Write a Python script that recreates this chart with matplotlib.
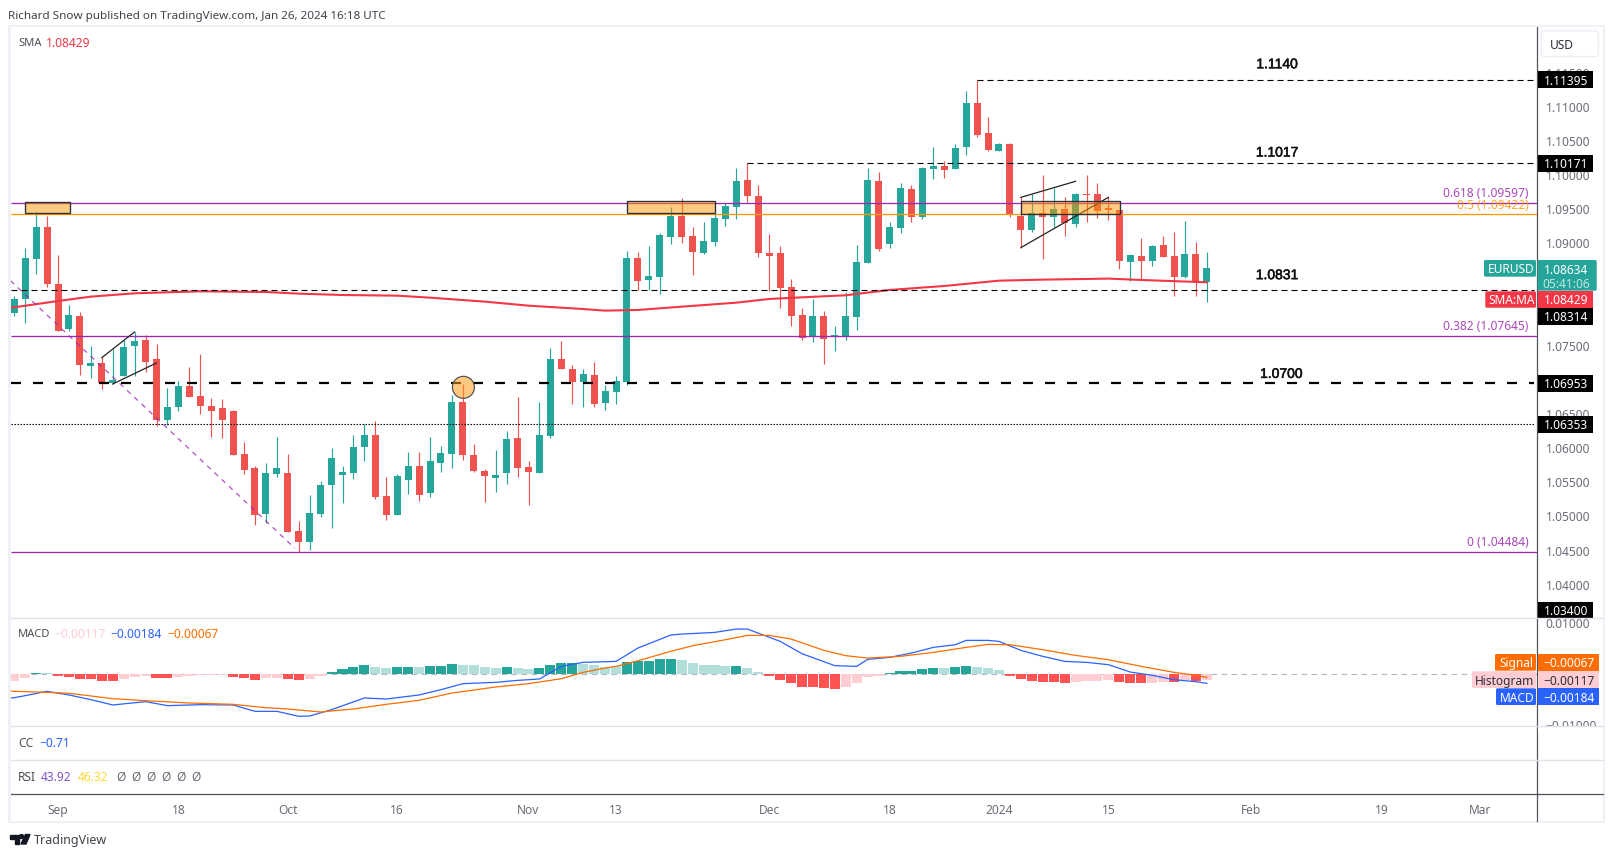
import numpy as np
import matplotlib
matplotlib.use("Agg")
import matplotlib.pyplot as plt
import matplotlib.patheffects as pe
from matplotlib.patches import Rectangle, Ellipse, FancyBboxPatch, Polygon, Circle

plt.rcParams['font.family'] = ['Noto Sans', 'DejaVu Sans']

W, H = 1613, 857

# daily EURUSD candles
opens = [1.07980, 1.08185, 1.08770, 1.09239, 1.08404, 1.07745, 1.07936, 1.07204, 1.07248, 1.06955,
         1.07057, 1.07497, 1.07584, 1.07306, 1.06413, 1.06604, 1.06911, 1.06765, 1.06618, 1.06589,
         1.06545, 1.05915, 1.05710, 1.05037, 1.05623, 1.05637, 1.04788, 1.04627, 1.05037, 1.05462,
         1.05608, 1.05637, 1.06018, 1.06194, 1.05301, 1.05022, 1.05535, 1.05740, 1.05344, 1.05784,
         1.05915, 1.06677, 1.05901, 1.05667, 1.05564, 1.05637, 1.06150, 1.05725, 1.05637, 1.06179,
         1.07306, 1.07160, 1.06970, 1.07072, 1.06662, 1.06823, 1.06970, 1.08785, 1.08463, 1.08507,
         1.09092, 1.09400, 1.09107, 1.08858, 1.09019, 1.09356, 1.09532, 1.09927, 1.09693, 1.08858,
         1.08858, 1.08360, 1.07951, 1.07643, 1.07936, 1.07640, 1.07643, 1.07922, 1.08712, 1.09913,
         1.08990, 1.09224, 1.09795, 1.09386, 1.10088, 1.10132, 1.10088, 1.10410, 1.11054, 1.10615,
         1.10352, 1.10454, 1.09400, 1.09195, 1.09444, 1.09386, 1.09503, 1.09283, 1.09722, 1.09722,
         1.09517, 1.09488, 1.08727, 1.08815, 1.08741, 1.08976, 1.08815, 1.08507, 1.08844, 1.08434]
highs = [1.08229, 1.08931, 1.09458, 1.09400, 1.08829, 1.08097, 1.07994, 1.07497, 1.07336, 1.07453,
         1.07584, 1.07702, 1.07658, 1.07526, 1.06882, 1.06984, 1.07189, 1.07379, 1.06735, 1.06721,
         1.06560, 1.06091, 1.05740, 1.05784, 1.06164, 1.05915, 1.04935, 1.05315, 1.05520, 1.06003,
         1.05740, 1.06194, 1.06355, 1.06399, 1.05579, 1.05623, 1.05945, 1.05945, 1.06164, 1.06033,
         1.06779, 1.06940, 1.06062, 1.05696, 1.05974, 1.06252, 1.06750, 1.05813, 1.06677, 1.07467,
         1.07570, 1.07218, 1.07160, 1.07262, 1.06926, 1.07057, 1.08887, 1.08873, 1.08961, 1.09151,
         1.09532, 1.09663, 1.09239, 1.09312, 1.09429, 1.09590, 1.10102, 1.10171, 1.09854, 1.09136,
         1.08961, 1.08477, 1.08053, 1.08185, 1.08009, 1.07790, 1.08288, 1.08976, 1.10103, 1.10044,
         1.09312, 1.09883, 1.09854, 1.10118, 1.10410, 1.10205, 1.10454, 1.11230, 1.11395, 1.10850,
         1.10469, 1.10469, 1.09673, 1.09722, 1.10000, 1.09810, 1.09678, 1.09737, 1.10000, 1.09883,
         1.09678, 1.09488, 1.08844, 1.09078, 1.08976, 1.09107, 1.09166, 1.09327, 1.09020, 1.08873]
lows = [1.07936, 1.07833, 1.08551, 1.08360, 1.07716, 1.07716, 1.07072, 1.07028, 1.06867, 1.06940,
        1.07057, 1.07057, 1.07116, 1.06325, 1.06340, 1.06545, 1.06750, 1.06501, 1.06164, 1.06150,
        1.05901, 1.05623, 1.04876, 1.04905, 1.05579, 1.04774, 1.04481, 1.04510, 1.04993, 1.04832,
        1.05198, 1.05549, 1.05813, 1.05257, 1.04949, 1.05022, 1.05330, 1.05227, 1.05286, 1.05652,
        1.05710, 1.05828, 1.05652, 1.05213, 1.05359, 1.05476, 1.05579, 1.05169, 1.05637, 1.06150,
        1.07160, 1.06647, 1.06604, 1.06604, 1.06560, 1.06647, 1.06926, 1.08316, 1.08316, 1.08258,
        1.08990, 1.09004, 1.08536, 1.08843, 1.08961, 1.09253, 1.09356, 1.09600, 1.08800, 1.08302,
        1.08053, 1.07789, 1.07585, 1.07556, 1.07233, 1.07424, 1.07585, 1.07731, 1.08712, 1.08888,
        1.08932, 1.09151, 1.09312, 1.09356, 1.09942, 1.09956, 1.10088, 1.10293, 1.10557, 1.10352,
        1.10352, 1.09386, 1.08937, 1.09166, 1.08771, 1.09239, 1.09107, 1.09239, 1.09312, 1.09371,
        1.09342, 1.08624, 1.08449, 1.08463, 1.08668, 1.08800, 1.08229, 1.08492, 1.08229, 1.08141]
closes = [1.08185, 1.08785, 1.09239, 1.08404, 1.07716, 1.07950, 1.07218, 1.07248, 1.06955, 1.06999,
          1.07482, 1.07570, 1.07262, 1.06413, 1.06604, 1.06911, 1.06750, 1.06618, 1.06545, 1.06413,
          1.05901, 1.05681, 1.05022, 1.05637, 1.05710, 1.04774, 1.04627, 1.05052, 1.05462, 1.05857,
          1.05652, 1.06018, 1.06194, 1.05286, 1.05022, 1.05593, 1.05740, 1.05315, 1.05813, 1.05930,
          1.06677, 1.05901, 1.05667, 1.05593, 1.05608, 1.06135, 1.05710, 1.05652, 1.06194, 1.07306,
          1.07160, 1.06970, 1.07087, 1.06647, 1.06838, 1.06984, 1.08785, 1.08448, 1.08521, 1.09122,
          1.09400, 1.09092, 1.08873, 1.09034, 1.09370, 1.09546, 1.09912, 1.09693, 1.08858, 1.08814,
          1.08346, 1.07936, 1.07614, 1.07936, 1.07599, 1.07655, 1.07936, 1.08727, 1.09927, 1.08917,
          1.09239, 1.09810, 1.09386, 1.10103, 1.10132, 1.10074, 1.10396, 1.11054, 1.10586, 1.10366,
          1.10454, 1.09429, 1.09195, 1.09444, 1.09386, 1.09503, 1.09298, 1.09722, 1.09708, 1.09473,
          1.09488, 1.08741, 1.08829, 1.08741, 1.08961, 1.08800, 1.08507, 1.08844, 1.08449, 1.08634]

# 200 SMA, sampled at these bars
sma_bars = [-1, 0, 4, 7, 11, 17, 23, 26, 30, 35, 38, 43, 47, 52, 54, 57, 61, 66, 69, 72, 76, 80, 85, 90, 94, 100, 103, 109]
sma_vals = [1.08040, 1.08063, 1.08155, 1.08219, 1.08268, 1.08297, 1.08287, 1.08263, 1.08243, 1.08233, 1.08204, 1.08146,
            1.08087, 1.08038, 1.08014, 1.08024, 1.08072, 1.08131, 1.08185, 1.08209, 1.08239, 1.08317, 1.08375, 1.08453,
            1.08468, 1.08483, 1.08463, 1.08429]

# MACD pane
hist = [-.00131, -.00072, .00026, .00020, -.00033, -.00052, -.00092, -.00105, -.00131, -.00131,
        -.00092, -.00052, -.00039, -.00072, -.00072, -.00052, -.00033, -.00026, -.00020, -.00013,
        -.00052, -.00072, -.00112, -.00079, -.00072, -.00092, -.00112, -.00092, -.00033, .00046,
        .00092, .00144, .00184, .00144, .00112, .00131, .00131, .00131, .00151, .00151,
        .00203, .00184, .00171, .00131, .00112, .00131, .00112, .00092, .00112, .00184,
        .00223, .00223, .00203, .00184, .00144, .00164, .00243, .00262, .00262, .00302,
        .00302, .00282, .00223, .00184, .00184, .00164, .00164, .00125, .00046, -.00033,
        -.00112, -.00171, -.00249, -.00249, -.00269, -.00289, -.00249, -.00171, -.00052, -.00033,
        .00026, .00066, .00066, .00105, .00125, .00125, .00144, .00164, .00144, .00125,
        .00085, -.00033, -.00092, -.00131, -.00151, -.00151, -.00171, -.00151, -.00131, -.00131,
        -.00112, -.00151, -.00171, -.00171, -.00171, -.00151, -.00151, -.00112, -.00131, -.00117]
hist_shade = ("PPTL" "RRRRRR" "PPP" "RR" "PPPPP" "RRR" "PP" "RR" "PP" "TTTT" "LL" "TT" "L" "TTT" "LLLL" "T" "LL"
              "TTTT" "LLLL" "TTTTT" "LLLLL" "T" "LL" "RRRRRRR" "PPPP" "TTTTT" "L" "TT" "LLL" "RRRRRR" "PPPP"
              "RRR" "PP" "R" "P" "R" "P")
macd_bars = [-1, 0, 1, 3, 5, 7, 9, 12, 14, 17, 20, 22, 24, 26, 27, 29, 32, 34, 37, 39, 41, 44, 46, 48, 50, 52, 55, 57,
             60, 61, 64, 66, 67, 70, 72, 75, 77, 78, 80, 82, 84, 86, 87, 89, 90, 92, 94, 96, 98, 100, 102, 104, 106, 108, 109]
macd_vals = [-.00480, -.00466, -.00426, -.00341, -.00413, -.00505, -.00610, -.00544, -.00623, -.00604, -.00610, -.00735,
             -.00735, -.00833, -.00827, -.00702, -.00472, -.00492, -.00413, -.00308, -.00190, -.00164, -.00125, -.00098,
             .00151, .00230, .00249, .00512, .00768, .00787, .00820, .00886, .00886, .00643, .00400, .00164, .00151,
             .00289, .00328, .00413, .00525, .00577, .00663, .00663, .00643, .00466, .00348, .00249, .00230, .00184,
             .00039, -.00026, -.00112, -.00151, -.00184]
signal_bars = [-1, 0, 3, 5, 9, 12, 16, 20, 23, 25, 28, 31, 34, 37, 40, 44, 47, 50, 52, 54, 55, 57, 60, 62, 65, 67, 69,
               71, 74, 76, 78, 81, 84, 87, 89, 91, 94, 97, 100, 103, 106, 108, 109]
signal_vals = [-.00335, -.00341, -.00361, -.00380, -.00485, -.00525, -.00571, -.00597, -.00663, -.00689, -.00748, -.00689,
               -.00597, -.00518, -.00374, -.00256, -.00190, -.00092, .00033, .00118, .00151, .00262, .00446, .00558,
               .00676, .00761, .00761, .00689, .00466, .00361, .00315, .00348, .00426, .00525, .00584, .00577, .00479,
               .00367, .00282, .00151, .00033, -.00026, -.00067]

# 1.085, 1.080 and 1.070 sit fully behind the price tags, so they are left out
price_ticks = [1.115, 1.11, 1.105, 1.10, 1.095, 1.09, 1.075, 1.065, 1.06, 1.055, 1.05, 1.045, 1.04]
time_ticks = [4, 15, 25, 35, 47, 55, 69, 80, 90, 100, 113, 125, 134]
time_labels = ["Sep", "18", "Oct", "16", "Nov", "13", "Dec", "18", "2024", "15", "Feb", "19", "Mar"]

TEAL = "#26a69a"
RED = "#ef5350"
PURPLE = "#9c27b0"
ORANGE = "#ff9800"
SEP = "#e0e3eb"
AXIS = "#50535e"
TICK = "#6a6d78"
TEXT = "#4a4d57"
FS = 8.6

# bar index <-> pixel: px = 14.3 + 10.94 * bar
XLIM = (-0.3, 139.2)
L, R = 11, 1537.3


def make_ax(fig, top, bottom):
    ax = fig.add_axes([L / W, 1 - bottom / H, (R - L) / W, (bottom - top) / H])
    ax.set_xlim(*XLIM)
    for s in ["top", "left", "bottom"]:
        ax.spines[s].set_visible(False)
    ax.spines["right"].set_color(AXIS)
    ax.spines["right"].set_linewidth(0.9)
    ax.set_xticks([])
    ax.yaxis.tick_right()
    ax.tick_params(axis="y", length=0, pad=6, labelsize=FS, labelcolor=TICK)
    return ax


fig = plt.figure(figsize=(W / 100, H / 100), dpi=100, facecolor="white")

# main price pane
ax = make_ax(fig, 26, 618.3)
ax.set_ylim(1.03509, 1.12182)
ax.set_yticks(price_ticks)
ax.set_yticklabels([f"{t:.5f}" for t in price_ticks])

x = np.arange(len(opens))
o, h, l, c = map(np.array, (opens, highs, lows, closes))
cols = np.where(c >= o, TEAL, RED)
ax.vlines(x, l, h, colors=cols, lw=0.85, zorder=2)
ax.bar(x, np.abs(c - o), bottom=np.minimum(o, c), width=0.64, color=cols, zorder=2.1)
ax.plot(sma_bars, sma_vals, color="#f23645", lw=1.5, zorder=3)

# horizontal levels
ax.hlines([1.09597, 1.07645, 1.04484], *XLIM, color=PURPLE, lw=0.95, zorder=4)
ax.hlines(1.09422, *XLIM, color=ORANGE, lw=0.95, zorder=4)
ax.plot([88, 138.9], [1.11395, 1.11395], color="black", lw=0.8, dashes=(5.4, 3.6), zorder=4)
ax.plot([67, 138.9], [1.10171, 1.10171], color="black", lw=0.8, dashes=(5.4, 3.6), zorder=4)
ax.plot([XLIM[0], 138.9], [1.08314, 1.08314], color="black", lw=0.8, dashes=(5.4, 3.6), zorder=4)
ax.plot([XLIM[0], 138.9], [1.06953, 1.06953], color="black", lw=1.6, dashes=(4.5, 5.4), zorder=4)
ax.plot([XLIM[0], 138.9], [1.06353, 1.06353], color="black", lw=0.8, dashes=(1.3, 1.4), zorder=4)

# fib trend line and the two wedges
ax.plot([-0.35, 25.65], [1.08453, 1.04534], color=PURPLE, lw=0.9, dashes=(4, 4), alpha=0.8, zorder=4)
ax.plot([8, 11], [1.07326, 1.07702], color="#222222", lw=0.9, zorder=4)
ax.plot([9, 13], [1.06940, 1.07248], color="#222222", lw=0.9, zorder=4)
ax.plot([92, 97], [1.09673, 1.09908], color="#222222", lw=0.9, zorder=4)
ax.plot([92, 100], [1.08937, 1.09673], color="#222222", lw=0.9, zorder=4)

# highlighted zones
for x0, x1, y0, y1 in [(1.0, 5.06, 1.09439, 1.09600), (56.0, 64.0, 1.09439, 1.09614), (92.0, 101.1, 1.09424, 1.09615)]:
    ax.add_patch(Rectangle((x0, y0), x1 - x0, y1 - y0, facecolor=(1, 0.596, 0, 0.5),
                           edgecolor="#2a2e39", lw=0.95, zorder=5))
ax.add_patch(Ellipse((41.05, 1.06891), 2.01, 0.00322, facecolor=(1, 0.62, 0.1, 0.55),
                     edgecolor="#555555", lw=0.9, zorder=5))

for txt, bar, level in [("1.1140", 115.4, 1.11644), ("1.1017", 115.4, 1.10351),
                        ("1.0831", 115.4, 1.08556), ("1.0700", 115.8, 1.07110)]:
    ax.text(bar, level, txt, ha="center", va="center_baseline", fontsize=10, color="#111111",
            family="Liberation Sans", zorder=6,
            path_effects=[pe.withStroke(linewidth=0.4, foreground="#111111")])
for txt, level, col in [("0.618 (1.09597)", 1.09754, PURPLE), ("0.5 (1.09422)", 1.09579, ORANGE),
                        ("0.382 (1.07645)", 1.07802, PURPLE), ("0 (1.04484)", 1.04641, PURPLE)]:
    ax.text(138.4, level, txt, ha="right", va="center_baseline", fontsize=FS, color=col, alpha=0.85, zorder=6)

# MACD pane
ax2 = make_ax(fig, 618.3, 726.3)
ax2.set_ylim(-0.0103, 0.01098)
ax2.set_yticks([0.01, -0.01])
ax2.set_yticklabels(["0.01000", "\u22120.01000"])
shade = {"T": "#26a69a", "L": "#b2dfdb", "R": "#ff5252", "P": "#ffcdd2"}
ax2.axhline(0, color="#b2b5be", lw=0.8, dashes=(5, 4), zorder=1)
ax2.bar(x, hist, width=0.92, color=[shade[s] for s in hist_shade], zorder=2)
ax2.plot(macd_bars, macd_vals, color="#2962ff", lw=0.9, zorder=3)
ax2.plot(signal_bars, signal_vals, color="#ff6d00", lw=0.9, zorder=3)

# empty CC and RSI panes, the last one carries the time axis
ax3 = make_ax(fig, 726.3, 760.3)
ax3.set_yticks([])
ax4 = make_ax(fig, 760.3, 794)
ax4.set_yticks([])
ax4.spines["bottom"].set_visible(True)
ax4.spines["bottom"].set_color(AXIS)
ax4.spines["bottom"].set_linewidth(0.9)
ax4.set_xticks(time_ticks)
ax4.set_xticklabels(time_labels, fontsize=FS, color=TICK)
ax4.tick_params(axis="x", length=0, pad=7)
for lab in ax4.get_xticklabels():
    if lab.get_text() == "2024":
        lab.set_fontweight("bold")

# overlay in pixels for the chart furniture
ov = fig.add_axes([0, 0, 1, 1], zorder=10)
ov.set_xlim(0, W)
ov.set_ylim(H, 0)
ov.axis("off")
ov.patch.set_alpha(0)

# outer frame and pane separators, the -0.01 label is cut off by the pane edge
ov.add_patch(Rectangle((1538, 726.3), 64, 8, facecolor="white", edgecolor="none"))
for rect in [(8, 24.5, 3, 798.5), (8, 24.5, 1596, 2), (8, 821, 1596, 2.2), (1602.5, 24.5, 2.5, 798.5)]:
    ov.add_patch(Rectangle(rect[:2], rect[2], rect[3], facecolor="#f0f1f6", edgecolor="none"))
for yy in [618.3, 726.3, 760.3]:
    ov.plot([11, 1602.5], [yy, yy], color=SEP, lw=1.0)
ov.plot([1537.3, 1537.3], [794, 821], color=AXIS, lw=0.9)
ov.plot([R, 1602.5], [794, 794], color=AXIS, lw=0.9)


def tag(x0, x1, y0, y1, txt, bg, fg="white", bold=True, rounded=False):
    if rounded:
        ov.add_patch(FancyBboxPatch((x0 + 1.5, y0 + 1.5), x1 - x0 - 3, y1 - y0 - 3,
                                    boxstyle="round,pad=1.5,rounding_size=1.5", facecolor=bg, edgecolor="none"))
    else:
        ov.add_patch(Rectangle((x0, y0), x1 - x0, y1 - y0, facecolor=bg, edgecolor="none"))
    ov.text((x0 + x1) / 2 + 1, (y0 + y1) / 2, txt, ha="center", va="center_baseline", fontsize=FS, color=fg,
            fontweight="bold" if bold else "normal")


for y0, txt in [(71.3, "1.11395"), (155, "1.10171"), (308, "1.08314"), (375, "1.06953"), (416, "1.06353"), (602, "1.03400")]:
    tag(1537.5, 1592.7, y0, y0 + 16.7, txt, "black")

# last price, with the countdown under it
tag(1484, 1536, 260, 276.7, "EURUSD", TEAL, bold=False, rounded=True)
ov.add_patch(FancyBboxPatch((1539, 261.5), 56.2, 27.7, boxstyle="round,pad=1.5,rounding_size=1.5",
                            facecolor=TEAL, edgecolor="none"))
ov.text(1566, 268.5, "1.08634", ha="center", va="center_baseline", fontsize=FS, color="white", fontweight="bold")
ov.text(1566, 282.5, "05:41:06", ha="center", va="center_baseline", fontsize=FS, color="#bfe5e1")
tag(1485.3, 1536, 291.3, 307.7, "SMA:MA", "#f23645", rounded=True)
tag(1537.5, 1592.7, 291, 307.7, "1.08429", "#f23645")

tag(1495, 1536, 654, 670.7, "Signal", "#ff6d00", rounded=True)
tag(1537.5, 1598.7, 654, 670.7, "\u22120.00067", "#ff6d00", bold=False)
tag(1472, 1536, 671.3, 688, "Histogram", "#ffcdd2", fg="#2a2e39", bold=False, rounded=True)
tag(1537.5, 1598.7, 671.3, 688, "\u22120.00117", "#ffcdd2", fg="#2a2e39", bold=False)
tag(1496, 1536, 688.3, 705, "MACD", "#2962ff", rounded=True)
tag(1537.5, 1598.7, 688.3, 705, "\u22120.00184", "#2962ff", bold=False)

# currency button
ov.add_patch(FancyBboxPatch((1543, 33), 53.5, 21.5, boxstyle="round,pad=2,rounding_size=3",
                            facecolor="white", edgecolor="#eceef3", lw=1))
ov.text(1550, 44, "USD", ha="left", va="center_baseline", fontsize=FS, color="#2a2e39")

# header and pane legends
ov.text(8.5, 14.5, "Richard Snow published on TradingView.com, Jan 26, 2024 16:18 UTC", va="center_baseline",
        fontsize=8.4, color="#40434d")
legend_y = [42, 633.3, 741.7, 775.7]
for xx, yy, txt, col, size in [(18, legend_y[0], "SMA", TEXT, 8), (45.5, legend_y[0], "1.08429", "#f23645", FS),
                               (18, legend_y[1], "MACD", TEXT, 8), (54, legend_y[1], "\u22120.00117", "#ffcdd2", FS),
                               (110, legend_y[1], "\u22120.00184", "#2962ff", FS),
                               (167, legend_y[1], "\u22120.00067", "#ff6d00", FS),
                               (18, legend_y[2], "CC", TEXT, FS), (39.6, legend_y[2], "\u22120.71", "#2962ff", FS),
                               (18, legend_y[3], "RSI", TEXT, FS), (41.2, legend_y[3], "43.92", "#7e57c2", FS),
                               (78, legend_y[3], "46.32", "#fdd835", FS)]:
    ov.text(xx, yy, txt, va="center_baseline", fontsize=size, color=col)
for i in range(6):
    ov.text(116 + 15 * i, legend_y[3], "\u00d8", va="center_baseline", fontsize=FS, color=TICK)

# TradingView mark and name
ov.add_patch(Polygon([(10, 834.5), (19, 834.5), (19, 844), (14.5, 844), (14.5, 838.5), (10, 838.5)], color="#131722"))
ov.add_patch(Circle((21.5, 836.5), 2, color="#131722"))
ov.add_patch(Polygon([(25.5, 834.5), (30, 834.5), (26, 844), (21, 844)], color="#131722"))
ov.text(33.5, 839, "TradingView", va="center_baseline", fontsize=9, color="#40434d")

fig.savefig("out.png", dpi=100)
